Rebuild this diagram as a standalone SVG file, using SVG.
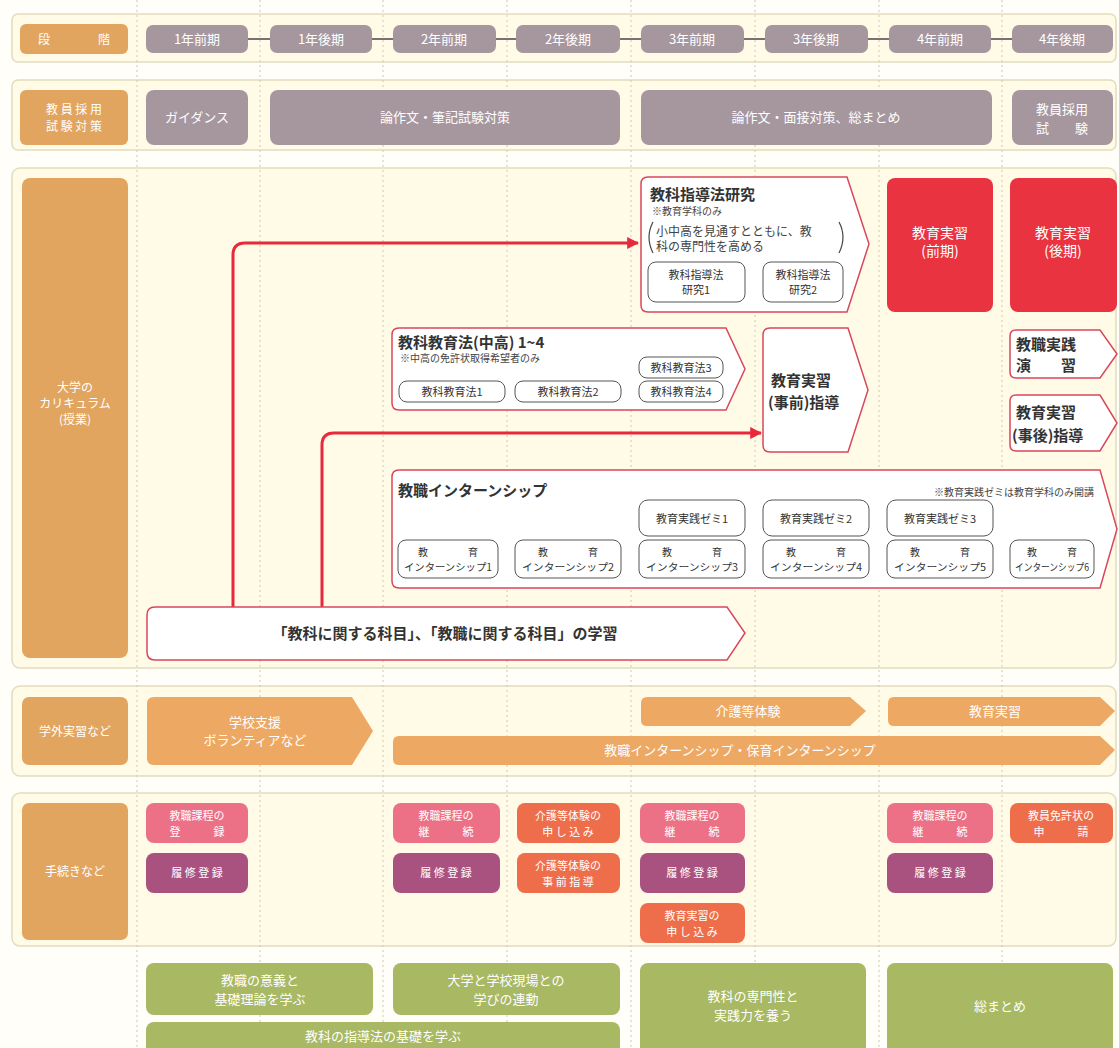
<svg xmlns="http://www.w3.org/2000/svg" width="1119" height="1048" viewBox="0 0 1119 1048">
<defs>
<style>
text{font-family:"Noto Sans CJK JP","Noto Sans",sans-serif}
.band{fill:#fffbe6;stroke:#e2dcbf;stroke-width:1.5}
.lab{fill:#e2a55f}
.labt{fill:#fff;font-size:12px;text-anchor:middle}
.pill{fill:#a6979f}
.pillt{fill:#fff;font-size:13px;text-anchor:middle}
.grid{stroke:#cfc9b0;stroke-width:1;stroke-dasharray:2 3}
.pent{fill:#fff;stroke:#d9475c;stroke-width:1.5}
.sub{fill:#fff;stroke:#555;stroke-width:1}
.subt{fill:#333;font-size:11px;text-anchor:middle}
.int{fill:#333;font-size:10px;text-anchor:middle}
.title{fill:#333;font-size:15px;font-weight:bold}
.note{fill:#444;font-size:10px}
.red{fill:#e93340}
.redt{fill:#fff;font-size:14px;text-anchor:middle}
.ora{fill:#eda963}
.orat{fill:#fff;font-size:13px;text-anchor:middle}
.pk{fill:#ec7086}
.pu{fill:#a9527f}
.or{fill:#ee6e4b}
.pt{fill:#fff;font-size:11px;text-anchor:middle}
.gr{fill:#a8b863}
.grt{fill:#fff;font-size:13px;text-anchor:middle}
.arrow{fill:none;stroke:#e8283c;stroke-width:3}
.tie{stroke:#7b6f75;stroke-width:2}
.paren{fill:none;stroke:#444;stroke-width:1.2}
</style>
<marker id="ah" viewBox="0 0 10 10" refX="9" refY="5" markerWidth="4" markerHeight="4" orient="auto" markerUnits="strokeWidth"><path d="M0 0 L10 5 L0 10 Z" fill="#e8283c"/></marker>
</defs>
<rect x="0" y="0" width="1119" height="1048" fill="#fffef8"/>
<g id="bands">
<rect class="band" x="12" y="14" width="1104" height="48" rx="6"/>
<rect class="band" x="12" y="80" width="1104" height="70" rx="6"/>
<rect class="band" x="12" y="168" width="1104" height="500" rx="8"/>
<rect class="band" x="12" y="686" width="1104" height="90" rx="8"/>
<rect class="band" x="12" y="793" width="1104" height="153" rx="8"/>
</g>
<g id="grid">
<line class="grid" x1="137" y1="0" x2="137" y2="1048"/>
<line class="grid" x1="260" y1="0" x2="260" y2="1048"/>
<line class="grid" x1="383" y1="0" x2="383" y2="1048"/>
<line class="grid" x1="507" y1="0" x2="507" y2="1048"/>
<line class="grid" x1="631" y1="0" x2="631" y2="1048"/>
<line class="grid" x1="755" y1="0" x2="755" y2="1048"/>
<line class="grid" x1="879" y1="0" x2="879" y2="1048"/>
<line class="grid" x1="1002" y1="0" x2="1002" y2="1048"/>
</g>
<g id="labels">
<g id="lab-stage"><rect class="lab" x="20" y="24" width="108" height="30" rx="6"/><text class="labt" x="74" y="44">段　　　　階</text></g>
<g id="lab-exam"><rect class="lab" x="20" y="90" width="108" height="55" rx="6"/><text class="labt" x="74" y="114">教 員 採 用</text><text class="labt" x="74" y="131">試 験 対 策</text></g>
<g id="lab-curr"><rect class="lab" x="22" y="178" width="106" height="480" rx="8"/><text class="labt" x="75" y="392">大学の</text><text class="labt" x="75" y="408">カリキュラム</text><text class="labt" x="75" y="424">(授業)</text></g>
<g id="lab-out"><rect class="lab" x="22" y="697" width="106" height="68" rx="7"/><text class="labt" x="75" y="736">学外実習など</text></g>
<g id="lab-proc"><rect class="lab" x="22" y="803" width="106" height="137" rx="7"/><text class="labt" x="75" y="876">手続きなど</text></g>
</g>
<g id="connectors">
<line class="tie" x1="248" y1="39" x2="270" y2="39"/>
<line class="tie" x1="372" y1="39" x2="393" y2="39"/>
<line class="tie" x1="496" y1="39" x2="516" y2="39"/>
<line class="tie" x1="620" y1="39" x2="641" y2="39"/>
<line class="tie" x1="744" y1="39" x2="765" y2="39"/>
<line class="tie" x1="868" y1="39" x2="889" y2="39"/>
<line class="tie" x1="991" y1="39" x2="1012" y2="39"/>
<path class="arrow" d="M233 607 V255 Q233 243 245 243 H638" marker-end="url(#ah)"/>
<path class="arrow" d="M322 607 V445 Q322 433 334 433 H761" marker-end="url(#ah)"/>
</g>
<g id="periods">
<g id="p1"><rect class="pill" x="146" y="25" width="102" height="28" rx="7"/><text class="pillt" x="197" y="44">1年前期</text></g>
<g id="p2"><rect class="pill" x="270" y="25" width="102" height="28" rx="7"/><text class="pillt" x="321" y="44">1年後期</text></g>
<g id="p3"><rect class="pill" x="393" y="25" width="103" height="28" rx="7"/><text class="pillt" x="444" y="44">2年前期</text></g>
<g id="p4"><rect class="pill" x="516" y="25" width="104" height="28" rx="7"/><text class="pillt" x="568" y="44">2年後期</text></g>
<g id="p5"><rect class="pill" x="641" y="25" width="103" height="28" rx="7"/><text class="pillt" x="692" y="44">3年前期</text></g>
<g id="p6"><rect class="pill" x="765" y="25" width="103" height="28" rx="7"/><text class="pillt" x="816" y="44">3年後期</text></g>
<g id="p7"><rect class="pill" x="889" y="25" width="102" height="28" rx="7"/><text class="pillt" x="940" y="44">4年前期</text></g>
<g id="p8"><rect class="pill" x="1012" y="25" width="101" height="28" rx="7"/><text class="pillt" x="1062" y="44">4年後期</text></g>
</g>
<g id="exam">
<g id="e1"><rect class="pill" x="146" y="90" width="102" height="55" rx="8"/><text class="pillt" x="197" y="122">ガイダンス</text></g>
<g id="e2"><rect class="pill" x="270" y="90" width="350" height="55" rx="8"/><text class="pillt" x="445" y="122">論作文・筆記試験対策</text></g>
<g id="e3"><rect class="pill" x="641" y="90" width="351" height="55" rx="8"/><text class="pillt" x="816" y="122">論作文・面接対策、総まとめ</text></g>
<g id="e4"><rect class="pill" x="1012" y="90" width="101" height="55" rx="8"/><text class="pillt" x="1062" y="114">教員採用</text><text class="pillt" x="1062" y="133">試　　験</text></g>
</g>
<g id="curriculum">
<g id="shidoho">
<path class="pent" d="M648 177 H847 L869 244 L847 312 H648 Q641 312 641 305 V184 Q641 177 648 177 Z"/>
<text class="title" x="650" y="200">教科指導法研究</text>
<text class="note" x="652" y="215">※教育学科のみ</text>
<path class="paren" d="M653 222 Q645 237 653 253"/>
<path class="paren" d="M839 222 Q847 237 839 253"/>
<text x="656" y="236" fill="#444" font-size="12">小中高を見通すとともに、教</text>
<text x="656" y="251" fill="#444" font-size="12">科の専門性を高める</text>
<rect class="sub" x="648" y="262" width="97" height="40" rx="8"/><text class="subt" x="696" y="279">教科指導法</text><text class="subt" x="696" y="294">研究1</text>
<rect class="sub" x="763" y="262" width="80" height="40" rx="8"/><text class="subt" x="803" y="279">教科指導法</text><text class="subt" x="803" y="294">研究2</text>
</g>
<g id="jisshu-zen"><rect class="red" x="887" y="178" width="106" height="134" rx="8"/><text class="redt" x="940" y="238">教育実習</text><text class="redt" x="940" y="256">(前期)</text></g>
<g id="jisshu-go"><rect class="red" x="1010" y="178" width="107" height="134" rx="8"/><text class="redt" x="1063" y="238">教育実習</text><text class="redt" x="1063" y="256">(後期)</text></g>
<g id="kyoikuho">
<path class="pent" d="M399 328 H726 L745 369 L726 410 H399 Q392 410 392 403 V335 Q392 328 399 328 Z"/>
<text class="title" x="398" y="348">教科教育法(中高) 1~4</text>
<text class="note" x="400" y="362">※中高の免許状取得希望者のみ</text>
<rect class="sub" x="399" y="381" width="106" height="21" rx="8"/><text class="subt" x="452" y="396">教科教育法1</text>
<rect class="sub" x="515" y="381" width="106" height="21" rx="8"/><text class="subt" x="568" y="396">教科教育法2</text>
<rect class="sub" x="639" y="357" width="84" height="21" rx="8"/><text class="subt" x="681" y="372">教科教育法3</text>
<rect class="sub" x="639" y="381" width="84" height="21" rx="8"/><text class="subt" x="681" y="396">教科教育法4</text>
</g>
<g id="jizen">
<path class="pent" d="M770 328 H848 L868 390 L848 452 H770 Q763 452 763 445 V335 Q763 328 770 328 Z"/>
<text x="771" y="386" fill="#333" font-size="15" font-weight="bold">教育実習</text>
<text x="768" y="408" fill="#333" font-size="15" font-weight="bold">(事前)指導</text>
</g>
<g id="enshu">
<path class="pent" d="M1016 330 H1100 L1117 354 L1100 378 H1016 Q1010 378 1010 372 V336 Q1010 330 1016 330 Z"/>
<text x="1016" y="350" fill="#333" font-size="15" font-weight="bold">教職実践</text>
<text x="1016" y="371" fill="#333" font-size="15" font-weight="bold">演　　習</text>
</g>
<g id="jigo">
<path class="pent" d="M1016 395 H1100 L1117 423 L1100 451 H1016 Q1010 451 1010 445 V401 Q1010 395 1016 395 Z"/>
<text x="1016" y="418" fill="#333" font-size="15" font-weight="bold">教育実習</text>
<text x="1012" y="441" fill="#333" font-size="15" font-weight="bold">(事後)指導</text>
</g>
<g id="intern">
<path class="pent" d="M399 470 H1100 L1117 529 L1100 588 H399 Q392 588 392 581 V477 Q392 470 399 470 Z"/>
<text class="title" x="398" y="496">教職インターンシップ</text>
<text class="note" x="1094" y="496" text-anchor="end">※教育実践ゼミは教育学科のみ開講</text>
<rect class="sub" x="639" y="500" width="106" height="36" rx="9"/><text class="subt" x="692" y="523">教育実践ゼミ1</text>
<rect class="sub" x="763" y="500" width="106" height="36" rx="9"/><text class="subt" x="816" y="523">教育実践ゼミ2</text>
<rect class="sub" x="887" y="500" width="106" height="36" rx="9"/><text class="subt" x="940" y="523">教育実践ゼミ3</text>
<rect class="sub" x="398" y="540" width="100" height="38" rx="8"/><text class="int" x="448" y="556">教　　　　育</text><text class="int" x="448" y="571" textLength="88" lengthAdjust="spacingAndGlyphs">インターンシップ1</text>
<rect class="sub" x="515" y="540" width="106" height="38" rx="8"/><text class="int" x="568" y="556">教　　　　育</text><text class="int" x="568" y="571" textLength="92" lengthAdjust="spacingAndGlyphs">インターンシップ2</text>
<rect class="sub" x="639" y="540" width="106" height="38" rx="8"/><text class="int" x="692" y="556">教　　　　育</text><text class="int" x="692" y="571" textLength="92" lengthAdjust="spacingAndGlyphs">インターンシップ3</text>
<rect class="sub" x="763" y="540" width="106" height="38" rx="8"/><text class="int" x="816" y="556">教　　　　育</text><text class="int" x="816" y="571" textLength="92" lengthAdjust="spacingAndGlyphs">インターンシップ4</text>
<rect class="sub" x="887" y="540" width="106" height="38" rx="8"/><text class="int" x="940" y="556">教　　　　育</text><text class="int" x="940" y="571" textLength="92" lengthAdjust="spacingAndGlyphs">インターンシップ5</text>
<rect class="sub" x="1010" y="540" width="84" height="38" rx="8"/><text class="int" x="1052" y="556">教　　　育</text><text class="int" x="1052" y="571" textLength="74" lengthAdjust="spacingAndGlyphs">インターンシップ6</text>
</g>
<g id="gakushu">
<path class="pent" d="M155 607 H727 L745 633 L727 660 H155 Q147 660 147 652 V615 Q147 607 155 607 Z"/>
<text x="445" y="639" fill="#333" font-size="15" font-weight="bold" text-anchor="middle">「教科に関する科目」、「教職に関する科目」の学習</text>
</g>
</g>
<g id="outside">
<g id="o1"><path class="ora" d="M154 697 H352 L373 731 L352 765 H154 Q147 765 147 758 V704 Q147 697 154 697 Z"/><text class="orat" x="255" y="727">学校支援</text><text class="orat" x="255" y="745">ボランティアなど</text></g>
<g id="o2"><path class="ora" d="M647 697 H850 L866 711 L850 726 H647 Q641 726 641 720 V703 Q641 697 647 697 Z"/><text class="orat" x="748" y="716">介護等体験</text></g>
<g id="o3"><path class="ora" d="M894 697 H1100 L1115 711 L1100 726 H894 Q888 726 888 720 V703 Q888 697 894 697 Z"/><text class="orat" x="995" y="716">教育実習</text></g>
<g id="o4"><path class="ora" d="M399 736 H1100 L1115 750 L1100 765 H399 Q393 765 393 759 V742 Q393 736 399 736 Z"/><text class="orat" x="740" y="755">教職インターンシップ・保育インターンシップ</text></g>
</g>
<g id="procedures">
<g id="r1"><rect class="pk" x="146" y="803" width="102" height="40" rx="8"/><text class="pt" x="197" y="820">教職課程の</text><text class="pt" x="197" y="836">登　　　録</text></g>
<g id="r2"><rect class="pu" x="146" y="853" width="102" height="40" rx="8"/><text class="pt" x="197" y="877">履 修 登 録</text></g>
<g id="r3"><rect class="pk" x="393" y="803" width="107" height="40" rx="8"/><text class="pt" x="446" y="820">教職課程の</text><text class="pt" x="446" y="836">継　　　続</text></g>
<g id="r4"><rect class="pu" x="393" y="853" width="107" height="40" rx="8"/><text class="pt" x="446" y="877">履 修 登 録</text></g>
<g id="r5"><rect class="or" x="517" y="803" width="103" height="40" rx="8"/><text class="pt" x="568" y="820">介護等体験の</text><text class="pt" x="568" y="836">申 し 込 み</text></g>
<g id="r6"><rect class="or" x="517" y="853" width="103" height="40" rx="8"/><text class="pt" x="568" y="870">介護等体験の</text><text class="pt" x="568" y="886">事 前 指 導</text></g>
<g id="r7"><rect class="pk" x="640" y="803" width="105" height="40" rx="8"/><text class="pt" x="692" y="820">教職課程の</text><text class="pt" x="692" y="836">継　　　続</text></g>
<g id="r8"><rect class="pu" x="640" y="853" width="105" height="40" rx="8"/><text class="pt" x="692" y="877">履 修 登 録</text></g>
<g id="r9"><rect class="or" x="640" y="903" width="105" height="40" rx="8"/><text class="pt" x="692" y="920">教育実習の</text><text class="pt" x="692" y="936">申 し 込 み</text></g>
<g id="r10"><rect class="pk" x="887" y="803" width="106" height="40" rx="8"/><text class="pt" x="940" y="820">教職課程の</text><text class="pt" x="940" y="836">継　　　続</text></g>
<g id="r11"><rect class="pu" x="887" y="853" width="106" height="40" rx="8"/><text class="pt" x="940" y="877">履 修 登 録</text></g>
<g id="r12"><rect class="or" x="1010" y="803" width="103" height="40" rx="8"/><text class="pt" x="1061" y="820">教員免許状の</text><text class="pt" x="1061" y="836">申　　　請</text></g>
</g>
<g id="goals">
<g id="g1"><rect class="gr" x="146" y="963" width="227" height="52" rx="8"/><text class="grt" x="260" y="985">教職の意義と</text><text class="grt" x="260" y="1004">基礎理論を学ぶ</text></g>
<g id="g2"><rect class="gr" x="393" y="963" width="227" height="52" rx="8"/><text class="grt" x="506" y="985">大学と学校現場との</text><text class="grt" x="506" y="1004">学びの連動</text></g>
<g id="g3"><rect class="gr" x="146" y="1022" width="474" height="34" rx="8"/><text class="grt" x="383" y="1041">教科の指導法の基礎を学ぶ</text></g>
<g id="g4"><rect class="gr" x="640" y="963" width="226" height="92" rx="8"/><text class="grt" x="753" y="1001">教科の専門性と</text><text class="grt" x="753" y="1020">実践力を養う</text></g>
<g id="g5"><rect class="gr" x="887" y="963" width="226" height="92" rx="8"/><text class="grt" x="1000" y="1011">総まとめ</text></g>
</g>
</svg>
